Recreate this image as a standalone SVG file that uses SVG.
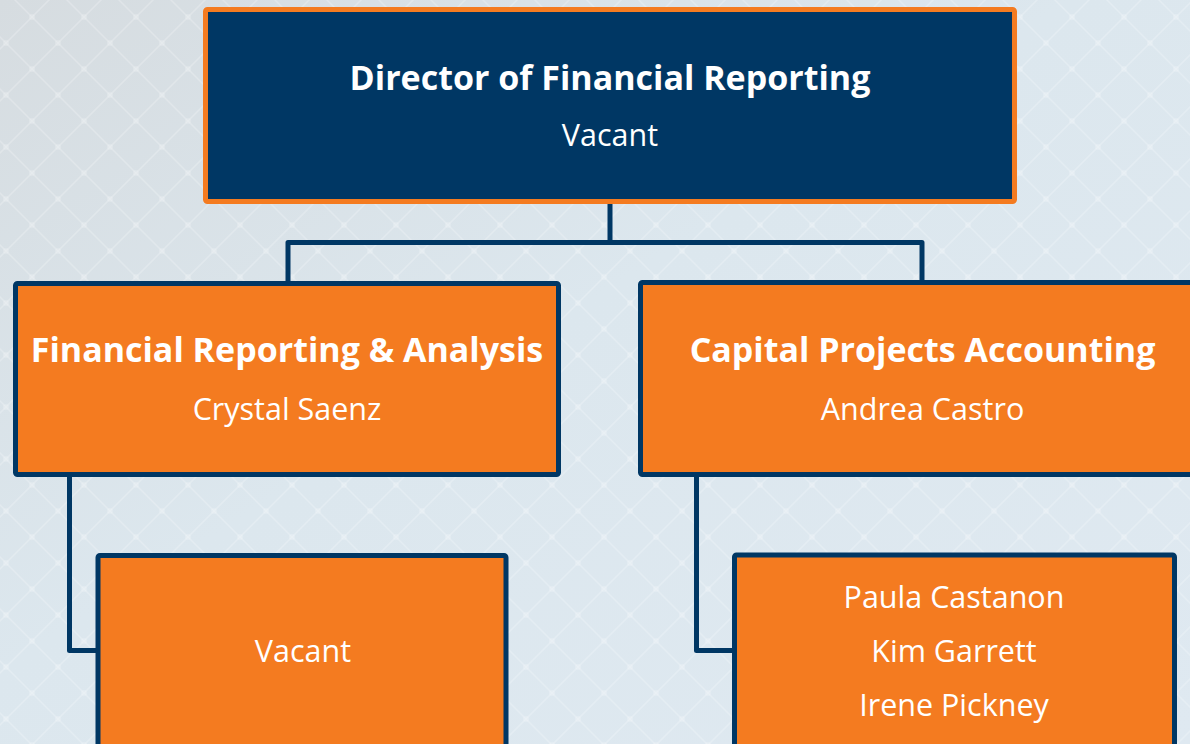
<svg xmlns="http://www.w3.org/2000/svg" width="1190" height="744" viewBox="0 0 1190 744">
  <defs>
    <linearGradient id="bg" x1="0" y1="0" x2="1" y2="1">
      <stop offset="0" stop-color="#d6dce0"/>
      <stop offset="0.45" stop-color="#dce7ee"/>
      <stop offset="1" stop-color="#dfe9f1"/>
    </linearGradient>
    <pattern id="lattice" patternUnits="userSpaceOnUse" x="32" y="17" width="52" height="52">
      <path d="M0 0 L52 52 M52 0 L0 52" stroke="#ffffff" stroke-opacity="0.22" stroke-width="1.5" fill="none"/>
      <circle cx="0" cy="0" r="3" fill="#ffffff" fill-opacity="0.18"/>
      <circle cx="52" cy="0" r="3" fill="#ffffff" fill-opacity="0.18"/>
      <circle cx="0" cy="52" r="3" fill="#ffffff" fill-opacity="0.18"/>
      <circle cx="52" cy="52" r="3" fill="#ffffff" fill-opacity="0.18"/>
      <circle cx="26" cy="26" r="3" fill="#ffffff" fill-opacity="0.18"/>
    </pattern>
  </defs>
  <style>
    .box { fill: #f47b20; stroke: #003764; stroke-width: 5; }
    .top { fill: #003764; stroke: #f47b20; stroke-width: 5; }
    .conn { fill: none; stroke: #003764; stroke-width: 5; stroke-linejoin: round; }
    .title { font-family: "Open Sans", "Noto Sans", sans-serif; font-weight: bold; font-size: 34px; fill: #ffffff; text-anchor: middle; }
    .name { font-family: "Open Sans", "Noto Sans", sans-serif; font-size: 30.5px; fill: #ffffff; text-anchor: middle; }
  </style>
  <rect x="0" y="0" width="1190" height="744" fill="url(#bg)"/>
  <rect x="0" y="0" width="1190" height="744" fill="url(#lattice)"/>

  <g id="connectors">
    <path class="conn" d="M610 204 V242.5"/>
    <path class="conn" d="M288 281 V242.5 H922 V281"/>
    <path class="conn" d="M69.5 477 V650.5 H98"/>
    <path class="conn" d="M696.5 477 V650.5 H734"/>
  </g>

  <g id="director">
    <rect class="top" x="205.5" y="9.5" width="809" height="192" rx="2"/>
    <text class="title" x="610" y="90">Director of Financial Reporting</text>
    <text class="name" x="610" y="146">Vacant</text>
  </g>

  <g id="financial-reporting">
    <rect class="box" x="15.5" y="283.5" width="543" height="191" rx="2"/>
    <text class="title" x="287" y="362">Financial Reporting &amp; Analysis</text>
    <text class="name" x="287" y="420">Crystal Saenz</text>
  </g>

  <g id="capital-projects">
    <rect class="box" x="640.5" y="282.5" width="564" height="192" rx="2"/>
    <text class="title" x="922.5" y="362">Capital Projects Accounting</text>
    <text class="name" x="922.5" y="420">Andrea Castro</text>
  </g>

  <g id="fra-staff">
    <rect class="box" x="98" y="555.5" width="408" height="250" rx="2"/>
    <text class="name" x="303" y="662">Vacant</text>
  </g>

  <g id="cpa-staff">
    <rect class="box" x="734.5" y="555" width="440" height="250" rx="2"/>
    <text class="name" x="954" y="608">Paula Castanon</text>
    <text class="name" x="954" y="662">Kim Garrett</text>
    <text class="name" x="954" y="716">Irene Pickney</text>
  </g>
</svg>
